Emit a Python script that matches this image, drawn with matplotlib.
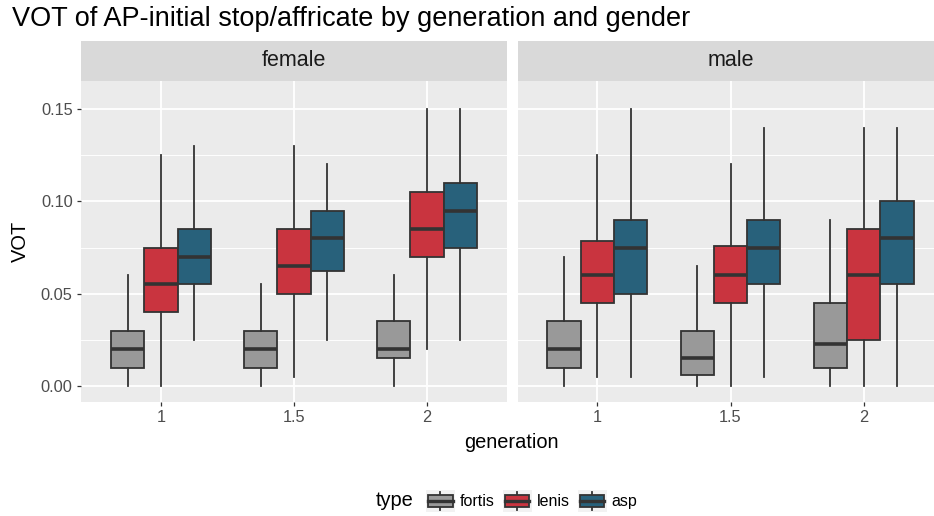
# VOT boxplots by generation, faceted by gender (ggplot look)
import numpy as np
import matplotlib
matplotlib.use('Agg')
from matplotlib import pyplot as plt
from matplotlib.patches import Rectangle, Patch
from matplotlib.lines import Line2D
from matplotlib.legend_handler import HandlerBase

plt.rcParams['font.family'] = ['Liberation Sans', 'DejaVu Sans']

# data: (lower whisker, q1, median, q3, upper whisker) per generation
generations = ['1', '1.5', '2']
types = ['fortis', 'lenis', 'asp']
panels = ['female', 'male']

female_fortis = [(0, 0.01, 0.02, 0.03, 0.06), (0, 0.01, 0.02, 0.03, 0.055), (0, 0.015, 0.02, 0.035, 0.06)]
female_lenis = [(0, 0.04, 0.055, 0.075, 0.125), (0.005, 0.05, 0.065, 0.085, 0.13), (0.02, 0.07, 0.085, 0.105, 0.15)]
female_asp = [(0.025, 0.055, 0.07, 0.085, 0.13), (0.025, 0.0625, 0.08, 0.095, 0.12), (0.025, 0.075, 0.095, 0.11, 0.15)]
male_fortis = [(0, 0.01, 0.02, 0.035, 0.07), (0, 0.006, 0.015, 0.03, 0.065), (0, 0.01, 0.0225, 0.045, 0.09)]
male_lenis = [(0.005, 0.045, 0.06, 0.0785, 0.125), (0, 0.045, 0.06, 0.076, 0.12), (0, 0.025, 0.06, 0.085, 0.14)]
male_asp = [(0.005, 0.05, 0.075, 0.09, 0.15), (0.005, 0.055, 0.075, 0.09, 0.14), (0, 0.055, 0.08, 0.10, 0.14)]

panel_data = {
    'female': [female_fortis, female_lenis, female_asp],
    'male': [male_fortis, male_lenis, male_asp],
}
colors = ['#999999', '#C9343F', '#28617B']
edge = '#333333'

W, H = 934, 516


def px_rect(x0, y0, x1, y1):
    return [x0 / W, 1 - y1 / H, (x1 - x0) / W, (y1 - y0) / H]


class BoxKey(HandlerBase):
    def create_artists(self, legend, orig_handle, xdescent, ydescent, width, height, fontsize, trans):
        x0, y0 = -xdescent, -ydescent
        bg = Rectangle((x0, y0), width, height, facecolor='#F2F2F2', edgecolor='none', transform=trans)
        cx = x0 + width / 2
        w1 = Line2D([cx, cx], [y0 + 0.1 * height, y0 + 0.25 * height], color=edge, lw=1.3, transform=trans)
        w2 = Line2D([cx, cx], [y0 + 0.75 * height, y0 + 0.9 * height], color=edge, lw=1.3, transform=trans)
        box = Rectangle((x0 + 0.08 * width, y0 + 0.25 * height), 0.84 * width, 0.5 * height,
                        facecolor=orig_handle.get_facecolor(), edgecolor=edge, lw=1.3, transform=trans)
        med = Line2D([x0 + 0.08 * width, x0 + 0.92 * width], [y0 + height / 2] * 2, color=edge, lw=2.4,
                     transform=trans)
        return [bg, w1, w2, box, med]


fig = plt.figure(figsize=(W / 100, H / 100), dpi=100)

panel_left = [81, 517.5]
panel_w = 426
top, bottom = 81, 402
strip_top = 41
xpos = np.arange(1, len(generations) + 1)
offsets = [-0.25, 0, 0.25]

for p, name in enumerate(panels):
    x0 = panel_left[p]
    ax = fig.add_axes(px_rect(x0, top, x0 + panel_w, bottom))
    ax.set_facecolor('#EBEBEB')
    for s in ax.spines.values():
        s.set_visible(False)
    ax.set_axisbelow(True)

    for t, series in enumerate(panel_data[name]):
        stats = []
        for g, v in enumerate(series):
            stats.append(dict(whislo=v[0], q1=v[1], med=v[2], q3=v[3], whishi=v[4], fliers=[]))
        ax.bxp(stats, positions=xpos + offsets[t], widths=0.25, patch_artist=True,
               showfliers=False, showcaps=False,
               boxprops=dict(facecolor=colors[t], edgecolor=edge, linewidth=1.3),
               whiskerprops=dict(color=edge, linewidth=1.3),
               medianprops=dict(color=edge, linewidth=2.6, solid_capstyle='butt'))

    ax.set_xlim(0.4, 3.6)
    ax.set_ylim(-0.00866, 0.1652)
    ax.set_xticks(xpos)
    ax.set_xticklabels(generations)
    ax.set_yticks([0, 0.05, 0.10, 0.15])
    ax.set_yticks([0.025, 0.075, 0.125], minor=True)
    ax.grid(which='major', color='white', linewidth=1.3)
    ax.grid(which='minor', axis='y', color='white', linewidth=0.65)
    ax.tick_params(which='major', color=edge, length=3, width=0.9, labelsize=11.8,
                   labelcolor='#4D4D4D', pad=3)
    ax.tick_params(which='minor', length=0)
    if p == 0:
        ax.set_yticklabels(['0.00', '0.05', '0.10', '0.15'])
    else:
        ax.tick_params(axis='y', which='both', left=False, labelleft=False)

    # facet strip
    sx = fig.add_axes(px_rect(x0, strip_top, x0 + panel_w, top))
    sx.set_facecolor('#D9D9D9')
    sx.set_xticks([])
    sx.set_yticks([])
    for s in sx.spines.values():
        s.set_visible(False)
    sx.text(0.5, 0.5, name, transform=sx.transAxes, ha='center', va='center',
            fontsize=15.5, color='#1A1A1A')

fig.text(12 / W, 1 - 26 / H, 'VOT of AP-initial stop/affricate by generation and gender',
         fontsize=19.5, va='baseline', ha='left')
fig.text(511.5 / W, 1 - 443 / H, 'generation', fontsize=14.4, ha='center', va='center')
fig.text(20 / W, 1 - 241.5 / H, 'VOT', fontsize=14.4, ha='center', va='center', rotation=90)

handles = [Patch(facecolor=c) for c in colors]
fig.legend(handles, types, loc='center left', bbox_to_anchor=(426 / W, 1 - 501 / H), ncol=3,
           frameon=False, fontsize=11.5, handlelength=29 / 16, handleheight=29 / 16,
           handletextpad=5 / 16, columnspacing=8 / 16, borderpad=0, borderaxespad=0,
           handler_map={Patch: BoxKey()})
fig.text(414 / W, 1 - 501 / H, 'type', fontsize=14.4, ha='right', va='center')

plt.savefig('out.png', dpi=100)
